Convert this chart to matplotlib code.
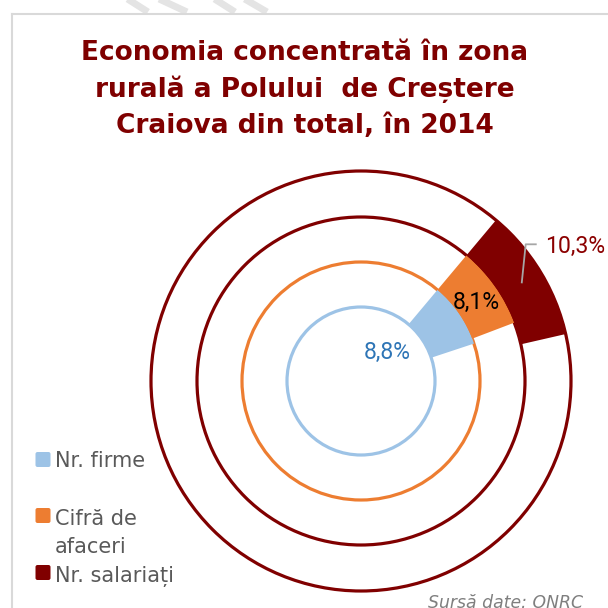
import matplotlib
matplotlib.use("Agg")
import matplotlib.pyplot as plt
from matplotlib.patches import Circle, FancyBboxPatch
from matplotlib.lines import Line2D

# ---- data ----
title_lines = ["Economia concentrată în zona",
               "rurală a Polului  de Creștere",
               "Craiova din total, în 2014"]
categories = ["Nr. firme", "Cifră de\nafaceri", "Nr. salariați"]
values = [8.8, 8.1, 10.3]          # percent of total
value_labels = ["8,8%", "8,1%", "10,3%"]
source = "Sursă date: ONRC"

# ---- style / layout ----
colors = ["#9DC3E6", "#ED7D31", "#800000"]
label_colors = ["#2E75B6", "#000000", "#8B0000"]
W = H = 608
fig = plt.figure(figsize=(W / 100, H / 100), dpi=100)
ax = fig.add_axes([0, 0, 1, 1])


def Y(y):
    return H - y


CX, CY = 361, 381
radii = [74, 119, 164, 210]     # ring boundaries (hole, ..., outer)

for i, (v, c) in enumerate(zip(values, colors)):
    r_in, r_out = radii[i], radii[i + 1]
    ax.pie([v, 100 - v], colors=[c, "none"], startangle=50, counterclock=False,
           radius=r_out, center=(CX, Y(CY)),
           wedgeprops=dict(width=r_out - r_in, linewidth=0), frame=False)
    ax.add_patch(Circle((CX, Y(CY)), r_in, fill=False, edgecolor=c, lw=2.3, zorder=0.5))
ax.add_patch(Circle((CX, Y(CY)), radii[-1], fill=False, edgecolor=colors[-1], lw=2.3, zorder=0.5))

# value labels
label_pos = [(387.5, 359.3), (476.7, 309.3), (575.5, 253.3)]
for (x, y), t, c in zip(label_pos, value_labels, label_colors):
    ax.text(x, Y(y), t, color=c, ha="center", va="baseline", fontsize=16.6,
            family=["Roboto", "DejaVu Sans"], zorder=5)
# leader line for the outer label
ax.plot([521.7, 525.7, 536.7], [Y(283.3), Y(244.3), Y(244.3)],
        color="#A6A6A6", lw=1.3, zorder=4, solid_capstyle="butt")

# title
for line, yb in zip(title_lines, [60, 97, 133]):
    ax.text(305, Y(yb), line, ha="center", va="baseline", fontsize=19,
            fontweight="bold", color="#7F0000", family=["DejaVu Sans"])

# legend
sq_tops = [452, 508, 565]
text_base = [[467.3], [525, 552.7], [581.7]]
for cat, c, top, bases in zip(categories, colors, sq_tops, text_base):
    ax.add_patch(FancyBboxPatch((35.5, Y(top + 15)), 15, 15,
                                boxstyle="round,pad=0,rounding_size=2",
                                facecolor=c, edgecolor="none"))
    for part, yb in zip(cat.split("\n"), bases):
        ax.text(55, Y(yb), part, ha="left", va="baseline", fontsize=15,
                color="#595959", family=["DejaVu Sans"])

# source
ax.text(428, Y(608), source, ha="left", va="baseline", fontsize=12.4,
        style="italic", color="#7F7F7F", family=["DejaVu Sans"])

# frame and faint watermark strokes
ax.add_line(Line2D([12, 12], [Y(14), Y(608)], color="#D9D9D9", lw=1.5))
ax.add_line(Line2D([12, 608], [Y(14), Y(14)], color="#D9D9D9", lw=1.5))
for x0, x1 in [(126, 148), (157, 187), (213, 235), (243, 267)]:
    ax.add_line(Line2D([x0, x1], [Y(-2), Y(12)], color="#E4E4E4", lw=5,
                       solid_capstyle="butt", zorder=0.2))

ax.set_xlim(0, W)
ax.set_ylim(0, H)
ax.set_aspect("equal", adjustable="box")
ax.set_axis_off()
fig.savefig("out.png", dpi=100, facecolor="white")
